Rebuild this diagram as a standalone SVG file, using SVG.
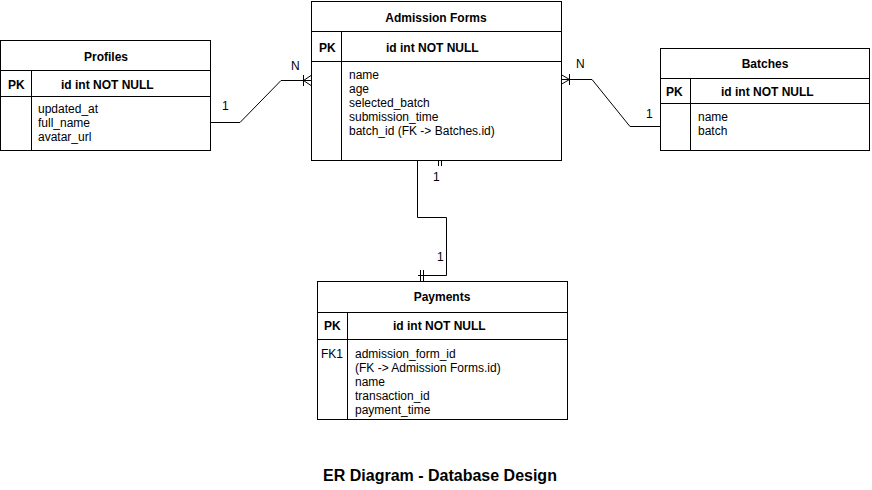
<svg xmlns="http://www.w3.org/2000/svg" width="872" height="490" viewBox="0 0 872 490">
<style>
.box{fill:#fff;stroke:#000;stroke-width:1}
.ln{stroke:#000;stroke-width:1;fill:none}
.t{font-family:"Liberation Sans",Arial,sans-serif;font-size:12px;fill:#000}
.b{font-weight:bold}
.c{text-anchor:middle}
</style>
<rect width="872" height="490" fill="#fff"/>
<g id="connectors">
  <path class="ln" d="M211 122.5 H240 L281 80.5 H311"/>
  <path class="ln" d="M303.5 75 V86 M311 75.5 L303.5 80.5 L311 85.5"/>
  <text class="t" x="291" y="70">N</text>
  <text class="t" x="222" y="110">1</text>
  <path class="ln" d="M561 79.5 H592 L630 126.5 H660"/>
  <path class="ln" d="M569.5 74 V85 M561 74.5 L569.5 79.5 L561 84.5"/>
  <text class="t" x="576" y="68">N</text>
  <text class="t" x="646" y="118">1</text>
  <path class="ln" d="M446 160.5 H417.5 V217.5 H446.5 V275.5 H418"/>
  <path class="ln" d="M438.5 155 V166 M441.5 155 V166"/>
  <path class="ln" d="M420.5 270 V281 M423.5 270 V281"/>
  <text class="t" x="433" y="181">1</text>
  <text class="t" x="437" y="261">1</text>
</g>
<g id="profiles">
  <rect class="box" x="0.5" y="40.5" width="210" height="110"/>
  <path class="ln" d="M0 70.5 H211 M0 96.5 H211 M31.5 70 V150"/>
  <text class="t b c" x="106" y="61">Profiles</text>
  <text class="t b" x="8" y="89">PK</text>
  <text class="t b" x="61" y="89">id int NOT NULL</text>
  <text class="t" x="38" y="113">updated_at</text>
  <text class="t" x="38" y="127">full_name</text>
  <text class="t" x="38" y="141">avatar_url</text>
</g>
<g id="admission-forms">
  <rect class="box" x="311.5" y="1.5" width="250" height="159"/>
  <path class="ln" d="M311 31.5 H562 M311 61.5 H562 M341.5 31 V160"/>
  <text class="t b c" x="436" y="22">Admission Forms</text>
  <text class="t b" x="319" y="52">PK</text>
  <text class="t b" x="386" y="52">id int NOT NULL</text>
  <text class="t" x="349" y="79">name</text>
  <text class="t" x="349" y="93">age</text>
  <text class="t" x="349" y="107">selected_batch</text>
  <text class="t" x="349" y="121">submission_time</text>
  <text class="t" x="349" y="135">batch_id (FK -&gt; Batches.id)</text>
</g>
<g id="batches">
  <rect class="box" x="660.5" y="48.5" width="209" height="102"/>
  <path class="ln" d="M660 78.5 H870 M660 103.5 H870 M690.5 78 V150"/>
  <text class="t b c" x="765" y="68">Batches</text>
  <text class="t b" x="666" y="96">PK</text>
  <text class="t b" x="721" y="96">id int NOT NULL</text>
  <text class="t" x="698" y="121">name</text>
  <text class="t" x="698" y="135">batch</text>
</g>
<g id="payments">
  <rect class="box" x="317.5" y="281.5" width="250" height="138"/>
  <path class="ln" d="M317 312.5 H568 M317 339.5 H568 M347.5 312 V419"/>
  <text class="t b c" x="442" y="301">Payments</text>
  <text class="t b" x="324" y="330">PK</text>
  <text class="t b" x="393" y="330">id int NOT NULL</text>
  <text class="t" x="321" y="358">FK1</text>
  <text class="t" x="355" y="358">admission_form_id</text>
  <text class="t" x="355" y="372">(FK -&gt; Admission Forms.id)</text>
  <text class="t" x="355" y="386">name</text>
  <text class="t" x="355" y="400">transaction_id</text>
  <text class="t" x="355" y="414">payment_time</text>
</g>
<text class="t b c" x="440" y="481" style="font-size:16px">ER Diagram - Database Design</text>
</svg>
